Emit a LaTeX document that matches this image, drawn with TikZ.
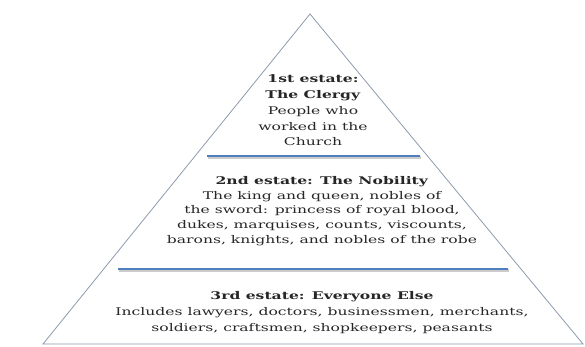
\documentclass[tikz,border=0pt]{standalone}
\usepackage{fontspec}
\setmainfont{DejaVu Serif}[FakeStretch=1.47]
\definecolor{edgegray}{HTML}{8C9AAE}
\definecolor{barblue}{HTML}{4F7FBF}
\tikzset{
  estate/.style={align=center, text=black!85, inner sep=0pt,
    font=\fontsize{10.6}{#1}\selectfont},
  estate/.default=15.2,
  bar/.style={barblue, line width=2.6pt},
  barshadow/.style={black!20, line width=2.6pt},
}
\begin{document}
\begin{tikzpicture}[x=1pt,y=-1pt] % piramide de los tres estados
  \useasboundingbox (0,0) rectangle (585,347);

  \coordinate (T) at (310,14);
  \coordinate (L) at (43,344);
  \coordinate (R) at (583,344);

  \draw[edgegray, line width=0.8pt] (L) -- (T) -- (R) -- cycle;

  \coordinate (b1l) at (207,156);
  \coordinate (b1r) at (420,156);
  \coordinate (b2l) at (118,269);
  \coordinate (b2r) at (508,269);

  \draw[barshadow] ([shift={(1,1.5)}]b1l) -- ([shift={(1,1.5)}]b1r);
  \draw[barshadow] ([shift={(1,1.5)}]b2l) -- ([shift={(1,1.5)}]b2r);
  \draw[bar] (b1l) -- (b1r);
  \draw[bar] (b2l) -- (b2r);

  \node[estate=15.7] (clergy) at (313,110.5)
    {\textbf{1st estate:}\\\textbf{The Clergy}\\People who\\worked in the\\Church};
  \node[estate=14.6] (nobility) at (322,211)
    {\textbf{2nd estate: The Nobility}\\The king and queen, nobles of\\the sword: princess of royal blood,\\dukes, marquises, counts, viscounts,\\barons, knights, and nobles of the robe};
  \node[estate=16] (others) at (322,313)
    {\textbf{3rd estate: Everyone Else}\\Includes lawyers, doctors, businessmen, merchants,\\soldiers, craftsmen, shopkeepers, peasants};
\end{tikzpicture}
\end{document}
